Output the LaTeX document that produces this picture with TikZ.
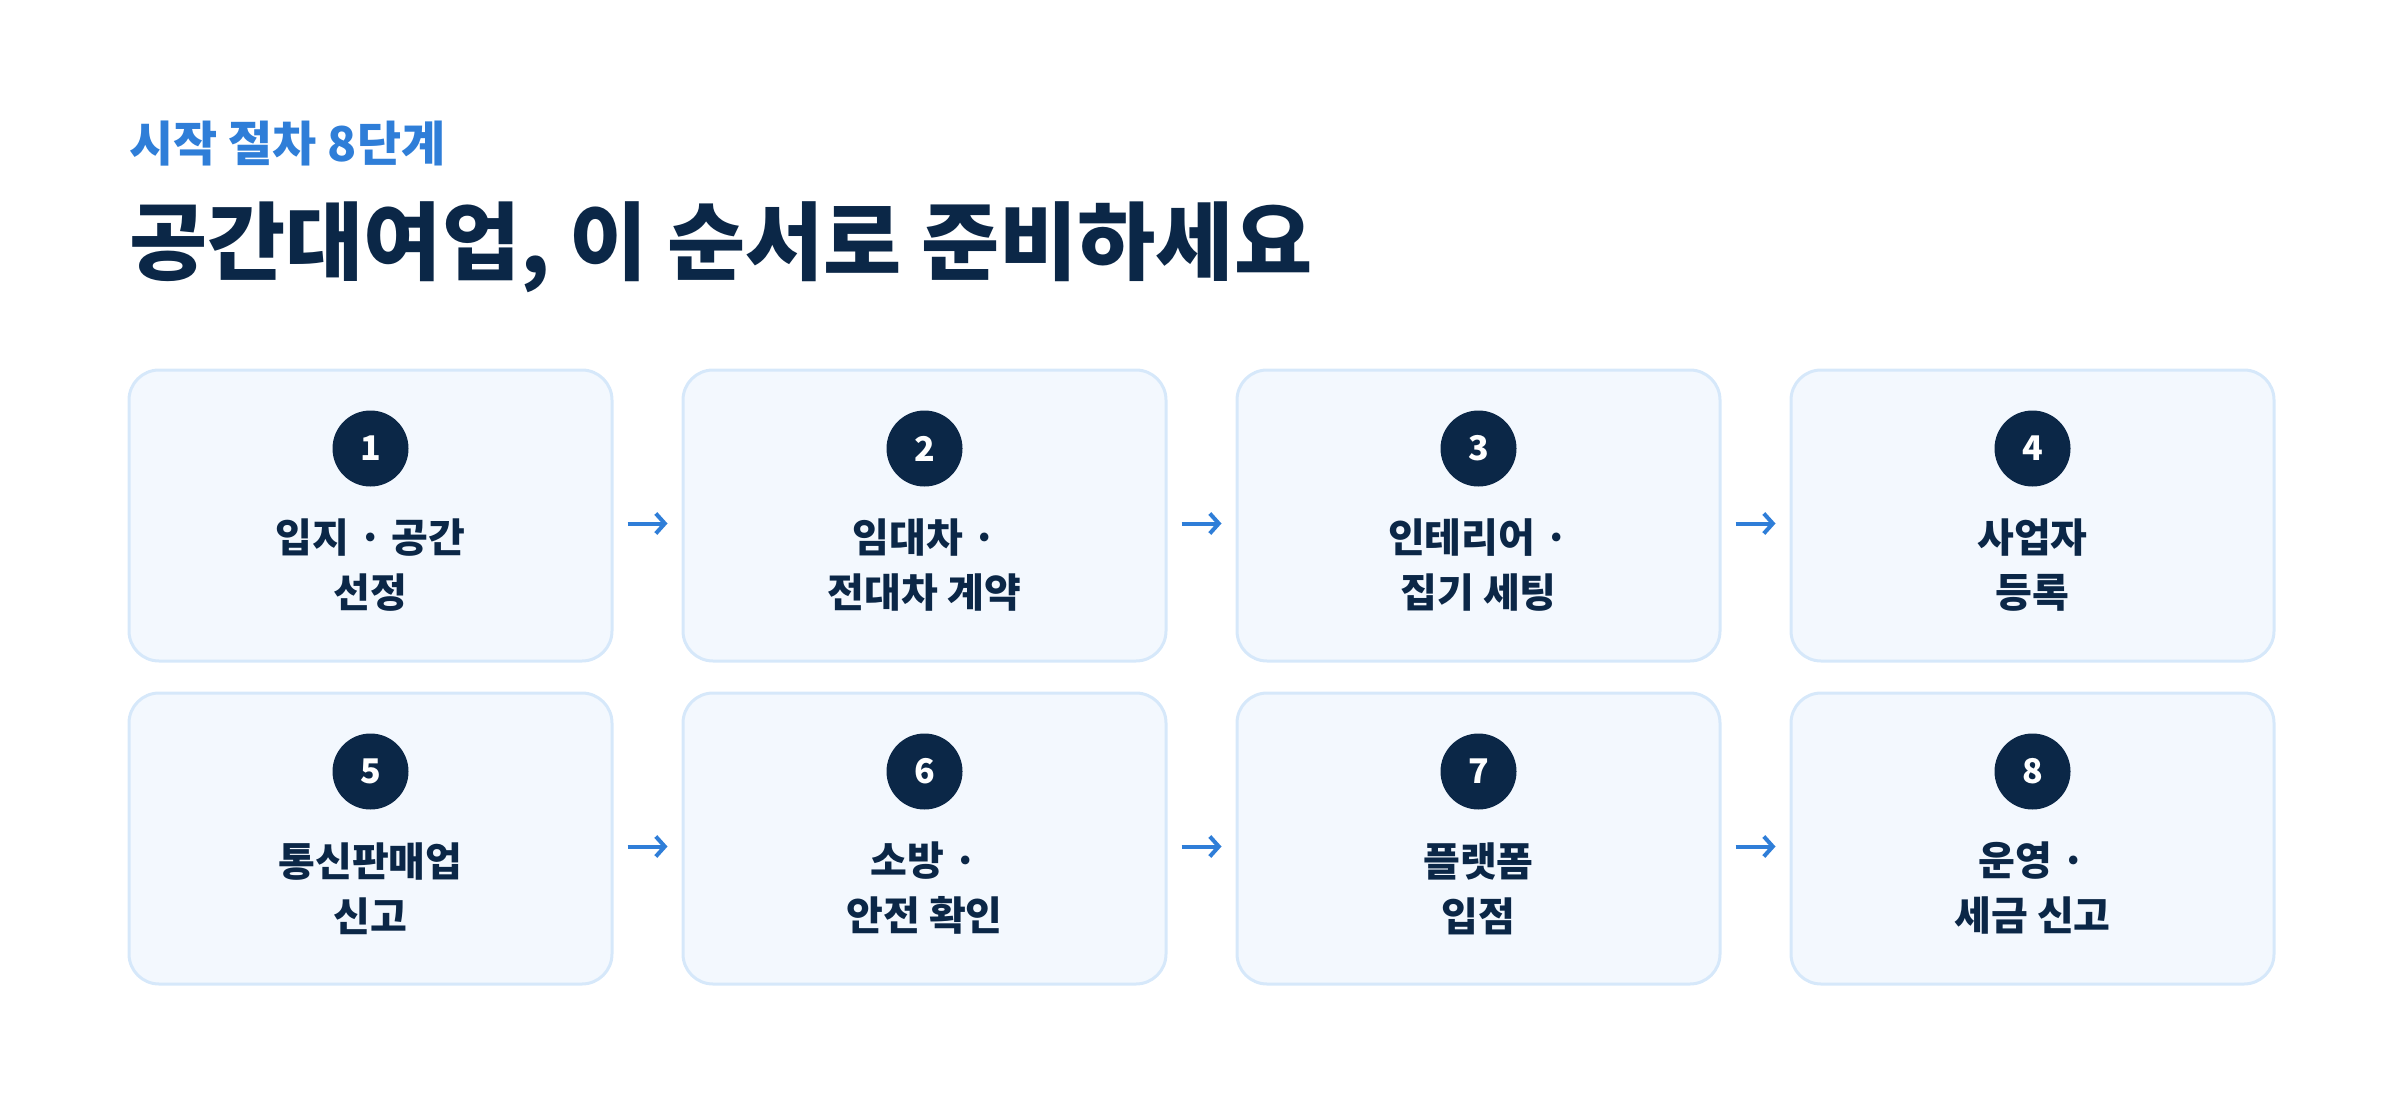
\documentclass[tikz,border=0pt]{standalone}
\usepackage{fontspec}
\setmainfont{Noto Sans CJK KR}
\usetikzlibrary{positioning, arrows.meta}
\definecolor{navy}{HTML}{0B2747}
\definecolor{accent}{HTML}{2F7ED8}
\definecolor{boxfill}{HTML}{F3F8FE}
\definecolor{boxline}{HTML}{D6E8FA}
\tikzset {
    stepbox/.style={draw=boxline, line width=3pt, fill=boxfill, rounded corners=30pt,
        minimum width=483pt, minimum height=291pt},
    badge/.style={circle, fill=navy, minimum size=76pt, inner sep=0pt, text=white,
        font=\bfseries\fontsize{34}{34}\selectfont},
    steplabel/.style={align=center, text=navy, inner sep=0pt,
        font=\bfseries\fontsize{40}{55}\selectfont},
    flow/.style={-{Straight Barb[length=9pt, width=20pt]}, line width=4pt, accent,
        shorten <=14pt, shorten >=14pt}
}

\begin{document}
\begin{tikzpicture}[
x=1pt, y=-1pt,
  node distance=29pt and 68pt
  ]
\useasboundingbox (0,0) rectangle (2400,1116);

\node[anchor=west, inner sep=0pt, text=accent, font=\bfseries\fontsize{48}{48}\selectfont]
  (kicker) at (129,144) {시작 절차 8단계};
\node[anchor=west, inner sep=0pt, text=navy, font=\bfseries\fontsize{85}{85}\selectfont]
  (title) at (129,247) {공간대여업, 이 순서로 준비하세요};

% step boxes
\node[stepbox] (b1) at (370.5,515.5) {};
\node[stepbox, right=of b1] (b2) {};
\node[stepbox, right=of b2] (b3) {};
\node[stepbox, right=of b3] (b4) {};
\node[stepbox, below=of b1] (b5) {};
\node[stepbox, right=of b5] (b6) {};
\node[stepbox, right=of b6] (b7) {};
\node[stepbox, right=of b7] (b8) {};

\foreach \i/\txt in {1/{입지 · 공간\\선정}, 2/{임대차 ·\\전대차 계약}, 3/{인테리어 ·\\집기 세팅},
    4/{사업자\\등록}, 5/{통신판매업\\신고}, 6/{소방 ·\\안전 확인}, 7/{플랫폼\\입점},
    8/{운영 ·\\세금 신고}} {
  \node[badge] (n\i) at ([yshift=-80pt]b\i.north) {\i};
  \node[steplabel] (t\i) at ([yshift=-197pt]b\i.north) {\txt};
}

\foreach \a/\b in {1/2, 2/3, 3/4, 5/6, 6/7, 7/8}
  \draw[flow] ([yshift=-8pt]b\a.east) -- ([yshift=-8pt]b\b.west);

\end{tikzpicture}
\end{document}
